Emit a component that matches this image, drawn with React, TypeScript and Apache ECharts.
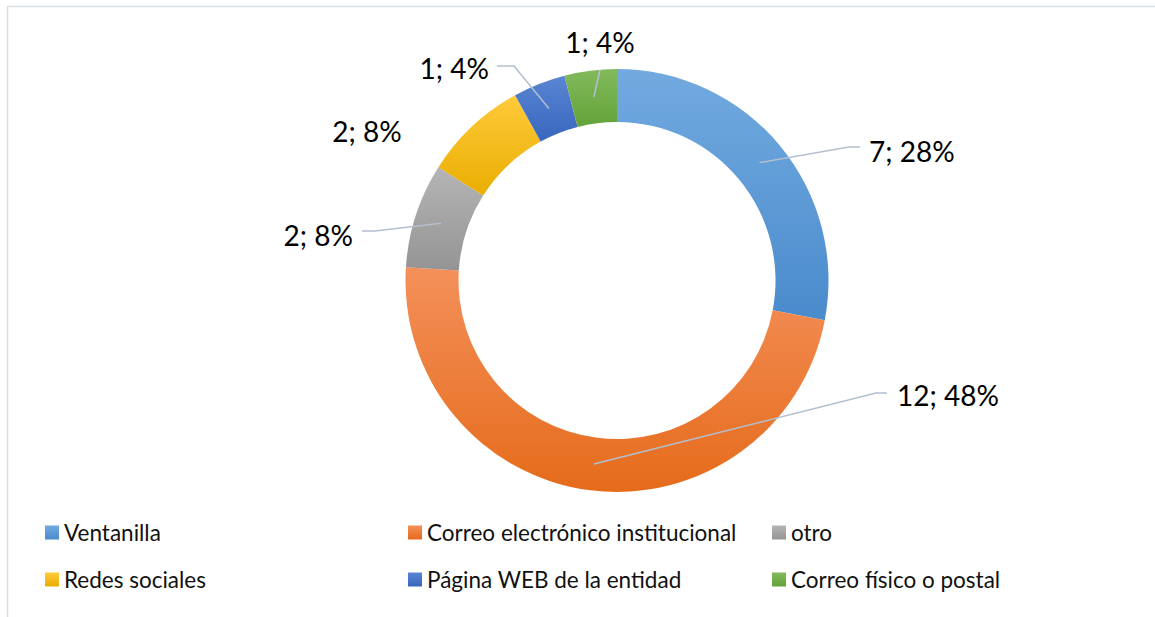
import React, { useEffect, useRef } from "react";
import * as echarts from "echarts";

const categories = [
  "Ventanilla",
  "Correo electrónico institucional",
  "otro",
  "Redes sociales",
  "Página WEB de la entidad",
  "Correo físico o postal",
];
const values = [7, 12, 2, 2, 1, 1];
const colorTop = ["#72AADF", "#F4905A", "#B5B5B5", "#FFCA3C", "#5A85D2", "#82BA5C"];
const colorBottom = ["#4A8BCD", "#E56B1B", "#949494", "#E9AE00", "#3766BE", "#63A339"];

// label layout (anchor, align, elbow, end of leader line)
const labelPos: { x: number; y: number; align: string; elbow: number[] | null; end: number[] | null }[] = [
  { x: 869, y: 151, align: "left", elbow: [849, 147], end: [860, 147] },
  { x: 897, y: 395, align: "left", elbow: [876, 393], end: [887, 393] },
  { x: 353, y: 235, align: "right", elbow: [375, 231], end: [362, 231] },
  { x: 367, y: 131, align: "center", elbow: null, end: null },
  { x: 489, y: 68, align: "right", elbow: [514, 66], end: [497, 66] },
  { x: 600, y: 42, align: "center", elbow: [600, 70], end: [600, 70] },
];

const CX = 617;
const CY = 280.5;
const R_IN = 158.5;
const R_OUT = 211.5;

export default function App() {
  const ref = useRef<HTMLDivElement>(null);
  useEffect(() => {
    if (!ref.current) return;
    const chart = echarts.init(ref.current, null, { renderer: "svg" });
    const total = values.reduce((a, b) => a + b, 0);
    // mid angles (clockwise from top)
    const mids: number[] = [];
    let acc = 0;
    values.forEach((v) => {
      mids.push(((acc + v / 2) / total) * Math.PI * 2);
      acc += v;
    });
    const rMid = (R_IN + R_OUT) / 2;
    const data = categories.map((name, i) => ({
      name,
      value: values[i],
      itemStyle: {
        color: new echarts.graphic.LinearGradient(0, 0, 0, 1, [
          { offset: 0, color: colorTop[i] },
          { offset: 1, color: colorBottom[i] },
        ]),
      },
    }));
    const leaderLines: any[] = [];
    labelPos.forEach((lp, i) => {
      if (!lp.elbow || !lp.end) return;
      const a = mids[i];
      const start = [CX + rMid * Math.sin(a), CY - rMid * Math.cos(a)];
      leaderLines.push({
        type: "polyline",
        z: 100,
        silent: true,
        shape: { points: [start, lp.elbow, lp.end] },
        style: { fill: "none", stroke: "#B3BFCF", lineWidth: 1.5 },
      });
    });
    const legendFor = (names: string[], left: number) => ({
      orient: "vertical",
      left,
      top: 521,
      padding: 0,
      itemGap: 24,
      itemWidth: 14,
      itemHeight: 14,
      icon: "rect",
      selectedMode: false,
      data: names,
      textStyle: {
        fontFamily: "Lato",
        fontSize: 22.5,
        lineHeight: 14,
        color: "#111",
        padding: [0, 0, 0, 0],
      },
    });
    chart.setOption({
      animation: false,
      backgroundColor: "#fff",
      graphic: [
        {
          type: "rect",
          shape: { x: 7.5, y: 6.5, width: 1200, height: 700 },
          style: { fill: "none", stroke: "#D9DEE6", lineWidth: 1.5 },
          silent: true,
        },
        ...leaderLines,
      ],
      legend: [
        legendFor([categories[0], categories[3]], 45),
        legendFor([categories[1], categories[4]], 408),
        legendFor([categories[2], categories[5]], 772),
      ],
      series: [
        {
          type: "pie",
          center: [CX, CY],
          radius: [R_IN, R_OUT],
          startAngle: 90,
          clockwise: true,
          avoidLabelOverlap: false,
          silent: true,
          data,
          label: {
            show: true,
            position: "outside",
            fontFamily: "Lato",
            fontSize: 28,
            color: "#000",
            formatter: (p: any) => `${p.value}; ${Math.round((p.value / total) * 100)}%`,
          },
          labelLine: { show: false },
          labelLayout: (p: any) => {
            const lp = labelPos[p.dataIndex];
            return { x: lp.x, y: lp.y, align: lp.align, verticalAlign: "middle" };
          },
        },
      ],
    });
    return () => chart.dispose();
  }, []);
  return (
    <div
      ref={ref}
      style={{ position: "absolute", left: 0, top: 0, width: 1155, height: 617 }}
    />
  );
}
